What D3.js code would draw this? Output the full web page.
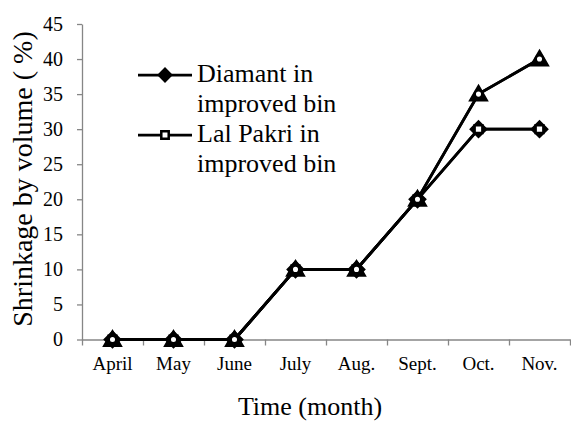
<!DOCTYPE html>
<html lang="en">
<head>
  <meta charset="UTF-8">
  <title>Shrinkage by volume</title>
  <script src="https://d3js.org/d3.v7.min.js"></script>
  <style>
    body
    {
      margin: 0;
      background: #ffffff;
    }

    svg
    {
      display: block;
    }

    svg text
    {
      font-family: "Liberation Serif", serif !important;
      fill: #000;
    }
  </style>
</head>
<body>
  <svg width="571" height="421"></svg>
  <script>
    const width = 571;
    const height = 421;

    // data
    const months = ["April", "May", "June", "July", "Aug.", "Sept.", "Oct.", "Nov."];
    const diamantLow = [0, 0, 0, 10, 10, 20, 30, 30];
    const lalPakriLow = [0, 0, 0, 10, 10, 20, 30, 30];
    const diamantHigh = [0, 0, 0, 10, 10, 20, 35, 40];
    const lalPakriHigh = [0, 0, 0, 10, 10, 20, 35, 40];
    const yTicks = [0, 5, 10, 15, 20, 25, 30, 35, 40, 45];
    const legendNames = [["Diamant in", "improved bin"], ["Lal Pakri in", "improved bin"]];

    const plotLeft = 82, plotRight = 570, plotTop = 24, plotBottom = 339.5;

    const svg = d3.select("svg");

    const x = d3.scaleBand().domain(months).range([plotLeft, plotRight]).padding(0);
    const xEdge = d3.scaleLinear().domain([0, months.length]).range([plotLeft, plotRight]);
    const y = d3.scaleLinear().domain([0, 45]).range([plotBottom, plotTop]);

    const axisColor = "#868686";

    // y axis
    const yAxis = svg.append("g")
      .attr("transform", `translate(${plotLeft},0)`)
      .call(d3.axisLeft(y).tickValues(yTicks).tickSize(5).tickPadding(14).tickSizeOuter(0));
    yAxis.attr("font-family", null).attr("font-size", null);
    yAxis.select(".domain").attr("stroke", axisColor).attr("stroke-width", 1.3);
    yAxis.selectAll(".tick line").attr("stroke", axisColor).attr("stroke-width", 1.3);
    yAxis.selectAll(".tick text").style("font-size", "20px");

    // x axis (ticks between categories)
    const xAxis = svg.append("g")
      .attr("transform", `translate(0,${plotBottom})`)
      .call(d3.axisBottom(xEdge).tickValues(d3.range(0, months.length + 1)).tickSize(6).tickSizeOuter(0).tickFormat(""));
    xAxis.select(".domain").attr("stroke", axisColor).attr("stroke-width", 1.3);
    xAxis.selectAll(".tick line").attr("stroke", axisColor).attr("stroke-width", 1.3);

    svg.append("g")
      .selectAll("text")
      .data(months)
      .join("text")
      .attr("x", d => x(d) + x.bandwidth() / 2)
      .attr("y", plotBottom + 30)
      .attr("text-anchor", "middle")
      .style("font-size", "19px")
      .text(d => d);

    // axis titles
    svg.append("text")
      .attr("x", 310)
      .attr("y", 415)
      .attr("text-anchor", "middle")
      .style("font-size", "26px")
      .text("Time (month)");

    svg.append("text")
      .attr("transform", "translate(32,179) rotate(-90)")
      .attr("text-anchor", "middle")
      .style("font-size", "28px")
      .text("Shrinkage by volume ( %)");

    // series ("diamond" = square turned 45 degrees, like Excel's marker)
    const line = d3.line()
      .x((d, i) => x(months[i]) + x.bandwidth() / 2)
      .y(d => y(d));

    const series = [
      { values: diamantLow, shape: "diamond", size: 115, fill: "#000" },
      { values: lalPakriLow, shape: "square", size: 60, fill: "#fff" },
      { values: diamantHigh, shape: "triangle", size: 115, fill: "#000" },
      { values: lalPakriHigh, shape: "circle", size: 45, fill: "#fff" }
    ];

    const symbolType = {
      diamond: d3.symbolSquare,
      square: d3.symbolSquare,
      triangle: d3.symbolTriangle,
      circle: d3.symbolCircle
    };

    function markerTransform(shape, cx, cy)
    {
      if (shape === "diamond") return `translate(${cx},${cy}) rotate(45)`;
      if (shape === "triangle") return `translate(${cx},${cy + 1.5})`;
      return `translate(${cx},${cy})`;
    }

    series.forEach(s => {
      svg.append("path")
        .datum(s.values)
        .attr("d", line)
        .attr("fill", "none")
        .attr("stroke", "#000")
        .attr("stroke-width", 2.75);
    });

    series.forEach(s => {
      svg.append("g")
        .selectAll("path")
        .data(s.values)
        .join("path")
        .attr("transform", (d, i) => markerTransform(s.shape, x(months[i]) + x.bandwidth() / 2, y(d)))
        .attr("d", d3.symbol().type(symbolType[s.shape]).size(s.size))
        .attr("fill", s.fill)
        .attr("stroke", "#000")
        .attr("stroke-width", 2.5);
    });

    // legend
    const legendMarks = [
      { shape: "diamond", size: 75, fill: "#000" },
      { shape: "square", size: 55, fill: "#fff" }
    ];
    const legendY = [75, 135];

    legendNames.forEach((lines, i) => {
      const g = svg.append("g");
      g.append("line")
        .attr("x1", 138).attr("x2", 192)
        .attr("y1", legendY[i]).attr("y2", legendY[i])
        .attr("stroke", "#000")
        .attr("stroke-width", 2.75);
      g.append("path")
        .attr("transform", markerTransform(legendMarks[i].shape, 165, legendY[i]))
        .attr("d", d3.symbol().type(symbolType[legendMarks[i].shape]).size(legendMarks[i].size))
        .attr("fill", legendMarks[i].fill)
        .attr("stroke", "#000")
        .attr("stroke-width", 2.5);
      lines.forEach((t, j) => {
        g.append("text")
          .attr("x", 197)
          .attr("y", legendY[i] + 7 + j * 30)
          .style("font-size", "26px")
          .text(t);
      });
    });
  </script>
</body>
</html>
